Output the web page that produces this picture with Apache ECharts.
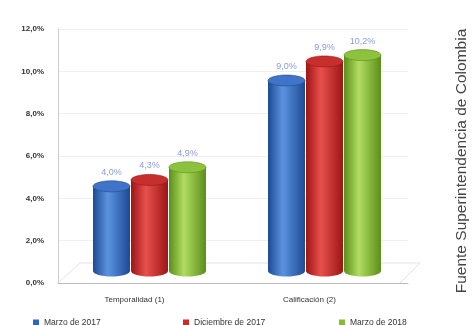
<!DOCTYPE html>
<html>
<head>
<meta charset="utf-8">
<script src="https://cdn.jsdelivr.net/npm/echarts@6/dist/echarts.min.js"></script>
<style>html,body{margin:0;padding:0;background:#fff}#c{width:474px;height:325px}</style>
</head>
<body>
<div id="c"></div>
<script>
var categories = ['Temporalidad (1)', 'Calificación (2)'];
var seriesNames = ['Marzo de 2017', 'Diciembre de 2017', 'Marzo de 2018'];
var marzo2017 = [4.0, 9.0];
var diciembre2017 = [4.3, 9.9];
var marzo2018 = [4.9, 10.2];
var yTicks = [0, 2, 4, 6, 8, 10, 12];

var values = [marzo2017, diciembre2017, marzo2018];
var shades = [
  {edge: '#1d4a94', mid: '#5b93e0', top: '#3f74c8', legend: '#2e64bd'},
  {edge: '#9c1515', mid: '#e8504c', top: '#c62f2c', legend: '#d02a27'},
  {edge: '#5a8f18', mid: '#b2dc62', top: '#8cc23e', legend: '#86bd35'}
];
function fmt(v) { return v.toFixed(1).replace('.', ',') + '%'; }
function cyl(s) {
  return new echarts.graphic.LinearGradient(0, 0, 1, 0, [
    {offset: 0, color: s.edge}, {offset: 0.4, color: s.mid}, {offset: 1, color: s.edge}
  ]);
}
var BW = 37, GAP = 1, EH = 11, DX = 4, DY = -12;
var series = values.map(function (vals, i) {
  return {
    name: seriesNames[i], type: 'custom',
    itemStyle: {color: shades[i].legend},
    encode: {x: 0, y: 1},
    data: vals.map(function (v, j) { return [j, v]; }),
    renderItem: function (params, api) {
      var cat = api.value(0), v = api.value(1);
      var base = api.coord([cat, 0]);
      var top = api.coord([cat, v]);
      var cx = base[0] + DX + (i - 1) * (BW + GAP);
      var by = base[1] + DY, ty = top[1] + DY;
      var g = cyl(shades[i]);
      return {
        type: 'group',
        children: [
          {type: 'ellipse', shape: {cx: cx, cy: by, rx: BW / 2, ry: EH / 2}, style: {fill: g}},
          {type: 'rect', shape: {x: cx - BW / 2, y: ty, width: BW, height: by - ty}, style: {fill: g}},
          {type: 'ellipse', shape: {cx: cx, cy: ty, rx: BW / 2, ry: EH / 2},
            style: {fill: shades[i].top, stroke: shades[i].edge, lineWidth: 0.6}},
          {type: 'text', x: cx, y: ty - EH / 2 - 4,
            style: {text: fmt(v), align: 'center', verticalAlign: 'bottom', fill: '#8c9be0',
              fontSize: 9, fontFamily: 'Liberation Sans'}}
        ]
      };
    }
  };
});
var legendLefts = [28, 178, 334];
var legends = seriesNames.map(function (n, i) {
  return {
    data: [{name: n, itemStyle: {color: shades[i].legend}}], left: legendLefts[i], top: 313,
    icon: 'rect', itemWidth: 6, itemHeight: 6, itemGap: 4,
    textStyle: {fontSize: 8.5, color: '#333', fontFamily: 'Liberation Sans'}
  };
});
var chart = echarts.init(document.getElementById('c'));
chart.setOption({
  animation: false,
  backgroundColor: '#fff',
  grid: {left: 58, right: 66, top: 29, bottom: 42},
  legend: legends,
  xAxis: {
    type: 'category', data: categories,
    axisLine: {lineStyle: {color: '#bbb'}}, axisTick: {show: false},
    axisLabel: {margin: 13, fontSize: 8, color: '#333', fontFamily: 'Liberation Sans', padding: [0, 22, 0, 0]}
  },
  yAxis: {
    type: 'value', min: yTicks[0], max: yTicks[yTicks.length - 1], interval: 2,
    axisLine: {show: true, lineStyle: {color: '#ccc'}}, axisTick: {show: false},
    splitLine: {lineStyle: {color: '#efefef'}},
    axisLabel: {margin: 14, fontSize: 8, color: '#333', fontWeight: 'bold', fontFamily: 'Liberation Sans',
      formatter: function (v) { return fmt(v); }}
  },
  series: series,
  graphic: [
    {type: 'polyline', shape: {points: [[58, 283], [80, 263], [420, 263], [400, 283]]},
      style: {stroke: '#e2e2e2', fill: null, lineWidth: 1}, z: 0},
    {type: 'text', x: 462, y: 161,
      rotation: Math.PI / 2,
      style: {text: 'Fuente Superintendencia de Colombia', fontSize: 15.5, fill: '#444',
        fontFamily: 'Liberation Sans', align: 'center', verticalAlign: 'middle'}}
  ]
});
</script>
</body>
</html>
